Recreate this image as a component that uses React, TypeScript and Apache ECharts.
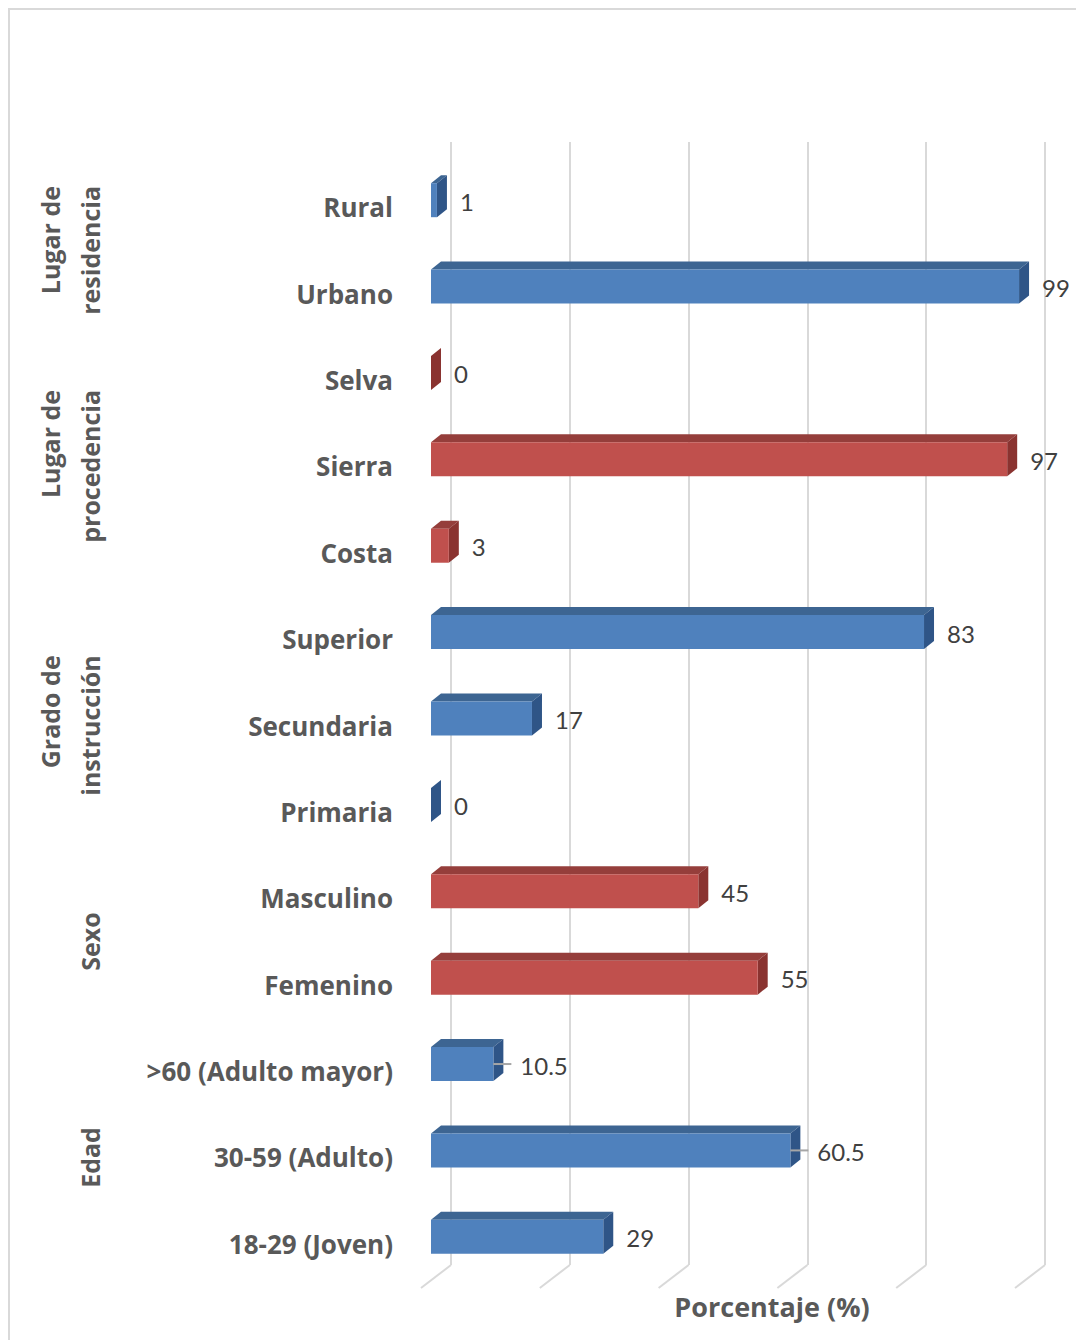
import React, { useEffect, useRef } from "react";
import * as echarts from "echarts";

const categories = [
  "Rural",
  "Urbano",
  "Selva",
  "Sierra",
  "Costa",
  "Superior",
  "Secundaria",
  "Primaria",
  "Masculino",
  "Femenino",
  ">60 (Adulto mayor)",
  "30-59 (Adulto)",
  "18-29 (Joven)",
];
const values = [1, 99, 0, 97, 3, 83, 17, 0, 45, 55, 10.5, 60.5, 29];
const groupNames = ["Lugar de\nresidencia", "Lugar de\nprocedencia", "Grado de\ninstrucción", "Sexo", "Edad"];
const groupSizes = [2, 3, 3, 2, 3];
const groupColors = ["blue", "red", "blue", "red", "blue"];
const leaderLabels = [">60 (Adulto mayor)", "30-59 (Adulto)"];
const xTicks = [0, 20, 40, 60, 80, 100];
const axisTitle = "Porcentaje (%)";

const PALETTE: Record<string, { front: string; top: string; side: string }> = {
  blue: { front: "#4F81BD", top: "#3D6592", side: "#2F5587" },
  red: { front: "#C0504D", top: "#953E3B", side: "#8A3330" },
};

const BOLD_FONT = "'Open Sans', 'Noto Sans', sans-serif";
const VALUE_FONT = "Lato, 'Open Sans', sans-serif";
const LABEL_GREY = "#595959";

function colorOf(i: number): string {
  let acc = 0;
  for (let g = 0; g < groupSizes.length; g++) {
    acc += groupSizes[g];
    if (i < acc) return groupColors[g];
  }
  return "blue";
}

export default function App() {
  const ref = useRef<HTMLDivElement>(null);
  useEffect(() => {
    if (!ref.current) return;
    const chart = echarts.init(ref.current, null, { renderer: "svg" });
    const DX = 20; // front plane shift from back plane
    const DY = 15;
    const DEPTH_X = 10;
    const DEPTH_Y = -8;
    const HALF_H = 17;

    const option: any = {
      animation: false,
      backgroundColor: "#ffffff",
      grid: [
        { left: 451, top: 142, width: 594, height: 1123 },
        { left: 422, top: 164, width: 594, height: 1123 },
      ],
      xAxis: [
        {
          type: "value",
          gridIndex: 0,
          min: 0,
          max: 100,
          interval: 20,
          axisLabel: { show: false },
          axisLine: { show: false },
          axisTick: { show: false },
          splitLine: { show: true, lineStyle: { color: "#d9d9d9", width: 2 } },
        },
        { type: "value", gridIndex: 1, min: 0, max: 100, show: false },
      ],
      yAxis: [
        { type: "category", gridIndex: 0, data: categories, inverse: true, show: false },
        {
          type: "category",
          gridIndex: 1,
          data: categories,
          inverse: true,
          axisLine: { show: false },
          axisTick: { show: false },
          splitLine: { show: false },
          axisLabel: {
            margin: 29,
            color: LABEL_GREY,
            fontFamily: BOLD_FONT,
            fontWeight: "bold",
            fontSize: 26,
          },
        },
      ],
      series: [
        {
          type: "custom",
          xAxisIndex: 0,
          yAxisIndex: 0,
          data: xTicks.map((t) => [t, 0]),
          renderItem: (params: any, api: any) => {
            const p = api.coord([api.value(0), 0]);
            const cs = params.coordSys;
            const bottom = cs.y + cs.height;
            return {
              type: "line",
              shape: { x1: p[0], y1: bottom, x2: p[0] - 30, y2: bottom + 23 },
              style: { stroke: "#d9d9d9", lineWidth: 2 },
            };
          },
        },
        {
          type: "custom",
          xAxisIndex: 0,
          yAxisIndex: 0,
          data: values.map((v, i) => [v, i]),
          renderItem: (params: any, api: any) => {
            const v = api.value(0);
            const idx = api.value(1);
            const p0 = api.coord([0, idx]);
            const p1 = api.coord([v, idx]);
            const x0 = p0[0] - DX;
            const x1 = p1[0] - DX;
            const cy = p0[1] + DY;
            const top = cy - HALF_H;
            const bot = cy + HALF_H;
            const pal = PALETTE[colorOf(params.dataIndex)];
            const hasLeader = leaderLabels.indexOf(categories[params.dataIndex]) >= 0;
            const children: any[] = [
              {
                type: "polygon",
                shape: {
                  points: [
                    [x0, top],
                    [x0 + DEPTH_X, top + DEPTH_Y],
                    [x1 + DEPTH_X, top + DEPTH_Y],
                    [x1, top],
                  ],
                },
                style: { fill: pal.top },
              },
              {
                type: "polygon",
                shape: {
                  points: [
                    [x1, top],
                    [x1 + DEPTH_X, top + DEPTH_Y],
                    [x1 + DEPTH_X, bot + DEPTH_Y],
                    [x1, bot],
                  ],
                },
                style: { fill: pal.side },
              },
              {
                type: "rect",
                shape: { x: x0, y: top, width: Math.max(0, x1 - x0), height: bot - top },
                style: { fill: pal.front },
              },
            ];
            if (hasLeader) {
              children.push({
                type: "line",
                shape: { x1: x1, y1: cy, x2: x1 + 18, y2: cy },
                style: { stroke: "#a6a6a6", lineWidth: 2 },
              });
            }
            children.push({
              type: "text",
              style: {
                text: String(v),
                x: x1 + DEPTH_X + (hasLeader ? 17 : 13),
                y: cy + 1,
                align: "left",
                verticalAlign: "middle",
                fill: "#404040",
                fontFamily: VALUE_FONT,
                fontSize: 24,
              },
            });
            return { type: "group", children };
          },
        },
      ],
    };
    chart.setOption(option);

    // Group labels placed from category pixel positions
    const canvas = document.createElement("canvas");
    const ctx = canvas.getContext("2d");
    const measure = (s: string) => {
      if (!ctx) return s.length * 14;
      ctx.font = "bold 25px 'Open Sans'";
      return ctx.measureText(s).width;
    };
    const graphics: any[] = [
      {
        type: "rect",
        z: -10,
        shape: { x: 9, y: 9, width: 1300, height: 1600 },
        style: { fill: "none", stroke: "#d9d9d9", lineWidth: 2 },
      },
      {
        type: "text",
        x: 772,
        y: 1306,
        style: {
          text: axisTitle,
          align: "center",
          verticalAlign: "middle",
          fill: LABEL_GREY,
          fontFamily: BOLD_FONT,
          fontWeight: "bold",
          fontSize: 27,
        },
      },
    ];
    let start = 0;
    groupNames.forEach((name, g) => {
      const first = categories[start];
      const last = categories[start + groupSizes[g] - 1];
      const yA = chart.convertToPixel({ yAxisIndex: 1 }, first) as number;
      const yB = chart.convertToPixel({ yAxisIndex: 1 }, last) as number;
      const mid = (yA + yB) / 2;
      const wMax = Math.max(...name.split("\n").map(measure));
      graphics.push({
        type: "text",
        x: 110,
        y: mid - wMax / 2,
        rotation: Math.PI / 2,
        style: {
          text: name,
          align: "right",
          verticalAlign: "bottom",
          lineHeight: 40,
          fill: LABEL_GREY,
          fontFamily: BOLD_FONT,
          fontWeight: "bold",
          fontSize: 25,
        },
      });
      start += groupSizes[g];
    });
    chart.setOption({ graphic: graphics });

    return () => chart.dispose();
  }, []);
  return (
    <div
      ref={ref}
      style={{ position: "absolute", left: 0, top: 0, width: 1076, height: 1340, background: "#fff" }}
    />
  );
}
